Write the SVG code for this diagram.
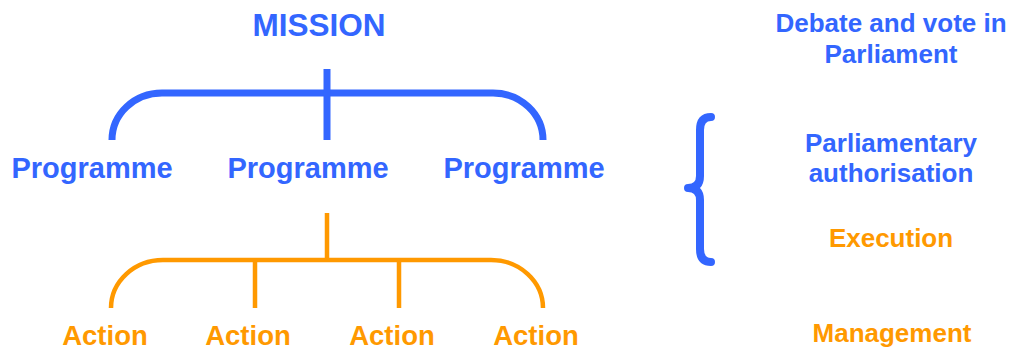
<svg xmlns="http://www.w3.org/2000/svg" width="1011" height="349" viewBox="0 0 1011 349">
<style>
text{font-family:"Liberation Sans",Arial,sans-serif;font-weight:bold;text-anchor:middle}
.b{fill:#3366FF}
.o{fill:#FF9900}
.sb{fill:none;stroke:#3366FF;stroke-width:7}
.so{fill:none;stroke:#FF9900;stroke-width:4.5}
</style>
<rect width="1011" height="349" fill="#fff"/>
<g id="connectors">
<path class="sb" d="M112,140 A50,47 0 0 1 162,93 H493 A50,47 0 0 1 543,140"/>
<path class="sb" d="M327,69 V140"/>
<path class="so" d="M111,308 A52,48 0 0 1 163,260 H491 A52,48 0 0 1 543,308"/>
<path class="so" d="M327,213 V260 M255,260 V308 M399,260 V308"/>
<path id="brace" d="M711,117 Q700,117 700,130 V176 Q700,188 688,188 Q700,188 700,200 V249 Q700,262 711,262" fill="none" stroke="#3366FF" stroke-width="8" stroke-linecap="round" stroke-linejoin="round"/>
</g>
<g id="mission"><text class="b" x="319" y="36" font-size="31.5">MISSION</text></g>
<g id="programme1"><text class="b" x="92" y="178" font-size="29">Programme</text></g>
<g id="programme2"><text class="b" x="308" y="178" font-size="29">Programme</text></g>
<g id="programme3"><text class="b" x="524" y="178" font-size="29">Programme</text></g>
<g id="action1"><text class="o" x="105" y="345" font-size="27.5">Action</text></g>
<g id="action2"><text class="o" x="248" y="345" font-size="27.5">Action</text></g>
<g id="action3"><text class="o" x="392" y="345" font-size="27.5">Action</text></g>
<g id="action4"><text class="o" x="536" y="345" font-size="27.5">Action</text></g>
<g id="debate"><text class="b" x="891" y="32" font-size="26">Debate and vote in</text><text class="b" x="891" y="63" font-size="26">Parliament</text></g>
<g id="authorisation"><text class="b" x="891" y="152" font-size="26">Parliamentary</text><text class="b" x="891" y="182" font-size="26">authorisation</text></g>
<g id="execution"><text class="o" x="891" y="247" font-size="26">Execution</text></g>
<g id="management"><text class="o" x="892" y="342" font-size="26">Management</text></g>
</svg>
